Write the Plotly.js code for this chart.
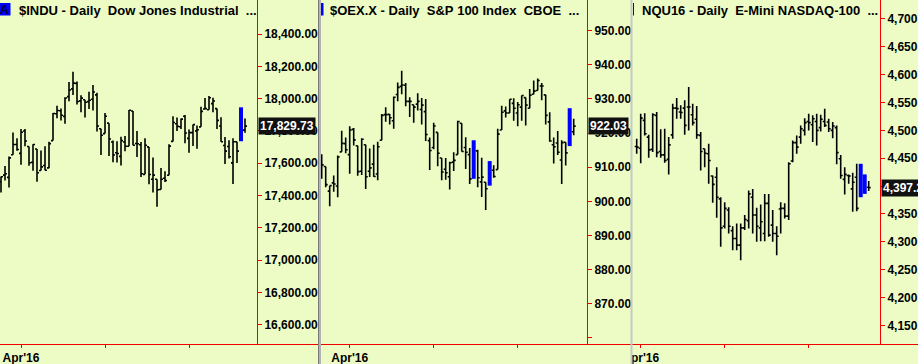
<!DOCTYPE html>
<html>
<head>
<meta charset="utf-8">
<script src="https://cdn.plot.ly/plotly-3.0.1.min.js"></script>
<style>
  html, body { margin: 0; padding: 0; background: #ECFCC4; }
  #chart { width: 918px; height: 364px; }
</style>
</head>
<body>
<div id="chart"></div>
<script>
// ---------------- DATA ----------------
const dates = [
  '2016-03-22','2016-03-23','2016-03-24','2016-03-28','2016-03-29','2016-03-30','2016-03-31',
  '2016-04-01','2016-04-04','2016-04-05','2016-04-06','2016-04-07','2016-04-08','2016-04-11',
  '2016-04-12','2016-04-13','2016-04-14','2016-04-15','2016-04-18','2016-04-19','2016-04-20',
  '2016-04-21','2016-04-22','2016-04-25','2016-04-26','2016-04-27','2016-04-28','2016-04-29',
  '2016-05-02','2016-05-03','2016-05-04','2016-05-05','2016-05-06','2016-05-09','2016-05-10',
  '2016-05-11','2016-05-12','2016-05-13','2016-05-16','2016-05-17','2016-05-18','2016-05-19',
  '2016-05-20','2016-05-23','2016-05-24','2016-05-25','2016-05-26','2016-05-27','2016-05-31',
  '2016-06-01','2016-06-02','2016-06-03','2016-06-06','2016-06-07','2016-06-08','2016-06-09',
  '2016-06-10','2016-06-13','2016-06-14','2016-06-15','2016-06-16','2016-06-17','2016-06-20',
  '2016-06-21','2016-06-22'
];
const monthStarts = ['2016-04-01', '2016-05-02', '2016-06-01'];
const monthLabels = ["Apr'16", '', ''];

// $INDU daily, first bar 2016-03-24
const dowStart = '2016-03-24';
const dowOpen  = [17485,17526,17512,17652,17716,17661,17799,17703,17605,17688,17555,17586,17571,17740,17906,17925,17890,18012,18060,18094,17986,17993,17981,17996,18023,17813,17783,17848,17731,17665,17642,17731,17705,17923,17722,17714,17531,17701,17501,17501,17437,17507,17525,17735,17844,17826,17891,17754,17789,17800,17825,17936,17931,17969,17938,17830,17710,17703,17602,17733,17736,17805];
const dowHigh  = [17518,17583,17642,17790,17755,17811,17811,17703,17717,17688,17679,17705,17733,17911,17956,17938,18009,18103,18167,18106,18020,17993,18043,18084,18036,17814,17911,17848,17740,17736,17764,17769,17929,17923,17800,17731,17755,17701,17636,17501,17571,17550,17718,17891,17883,17876,17899,17809,17839,17833,17949,18003,18016,18005,17938,17885,17762,17742,17754,17733,17946,17877];
const dowLow   = [17419,17493,17450,17652,17677,17590,17705,17584,17553,17485,17555,17556,17568,17740,17879,17864,17844,17984,18022,17963,17916,17883,17935,17927,17796,17651,17784,17645,17606,17605,17585,17674,17705,17711,17638,17515,17531,17469,17418,17331,17437,17483,17525,17735,17799,17812,17724,17664,17706,17689,17825,17936,17931,17915,17812,17733,17595,17629,17471,17602,17736,17788];
const dowClose = [17516,17535,17633,17716,17685,17792,17737,17603,17716,17541,17577,17556,17721,17908,17926,17897,18004,18053,18096,17982,18003,17977,17990,18041,17830,17773,17891,17750,17651,17660,17740,17705,17928,17711,17720,17535,17711,17530,17526,17436,17501,17493,17706,17852,17828,17873,17787,17789,17839,17807,17921,17938,18005,17985,17865,17733,17675,17640,17733,17675,17805,17829.73];
const dowMarked = ['2016-06-20'];
const dowTicks = [16600,16800,17000,17200,17400,17600,17800,18000,18200,18400];

// $OEX.X daily, first bar 2016-03-22
const oexStart = '2016-03-22';
const oexOpen  = [910.2,910.2,903.0,905.4,904.5,914.5,916.9,913.7,921.1,916.3,908.8,916.6,908.8,910.9,908.0,917.9,925.4,925.5,923.6,931.3,933.7,934.0,929.3,928.3,928.5,926.9,926.3,917.8,915.8,920.2,912.7,909.4,907.2,911.5,913.7,922.9,915.8,913.7,906.6,914.8,905.7,905.6,904.6,909.1,909.3,920.9,926.5,925.9,928.7,925.9,927.6,930.4,927.3,931.4,932.5,933.8,931.2,923.3,916.6,917.1,912.1,917.3,916.2,920.4];
const oexHigh  = [913.8,910.2,904.6,907.6,913.4,920.7,918.7,922.0,921.5,916.3,918.5,916.6,915.5,916.6,917.5,925.6,927.6,925.6,930.7,934.8,938.3,934.7,930.5,928.3,931.7,930.3,930.0,918.7,923.0,920.2,912.7,912.7,911.6,914.4,923.6,922.9,918.8,915.6,917.9,915.1,912.8,905.6,911.8,910.6,921.3,928.0,927.8,929.9,930.2,929.1,931.0,930.4,932.9,935.4,936.0,934.7,931.2,926.1,918.7,920.6,917.9,917.3,927.3,924.2];
const oexLow   = [906.6,904.1,898.6,902.8,901.2,914.5,914.1,908.1,916.4,907.5,907.7,903.6,907.1,907.2,906.2,917.9,923.3,922.5,921.3,929.3,931.4,927.9,924.7,923.0,926.6,922.5,917.7,909.2,915.3,910.3,906.2,906.3,903.5,908.9,913.7,914.6,909.5,905.1,906.6,904.1,901.3,897.5,904.6,906.9,909.3,920.9,924.6,925.9,923.6,922.0,923.6,922.2,927.3,931.4,932.5,929.6,922.5,917.5,911.1,913.6,905.1,910.5,916.2,919.4];
const oexClose = [910.7,904.9,904.6,905.1,913.0,917.0,915.1,920.9,918.0,908.7,918.2,907.2,909.8,907.3,916.0,925.2,925.4,924.5,930.5,933.4,934.1,929.3,929.3,927.6,929.3,928.2,919.6,914.9,922.1,914.1,908.6,908.4,911.3,912.0,923.4,914.6,914.4,906.6,915.5,906.9,907.1,903.7,909.2,907.3,919.7,926.1,925.9,929.9,927.3,928.3,931.0,928.2,931.1,932.3,935.4,933.8,925.2,917.7,916.0,914.4,917.2,914.2,919.6,922.03];
const oexMarked = ['2016-05-16', '2016-05-20', '2016-06-20'];
const oexTicks = [860,870,880,890,900,910,920,930,940,950];
const oexTickText = ['','870.00','880.00','890.00','900.00','910.00','920.00','930.00','940.00','950.00'];

// NQU16 daily, first bar 2016-03-31
const nqStart = '2016-03-31';
const nqOpen  = [4471,4468,4518,4488,4466,4527,4462,4456,4448,4492,4540,4533,4540,4542,4528,4520,4491,4467,4458,4418,4416,4377,4328,4357,4320,4306,4294,4325,4338,4380,4348,4325,4315,4369,4330,4315,4359,4360,4346,4445,4478,4488,4500,4516,4510,4516,4505,4516,4515,4500,4505,4449,4412,4419,4395,4416,4385,4420,4398];
const nqHigh  = [4485,4530,4531,4492,4531,4533,4502,4503,4488,4548,4558,4545,4554,4578,4548,4544,4497,4467,4476,4419,4434,4380,4371,4362,4328,4333,4333,4348,4392,4395,4361,4367,4386,4386,4357,4328,4371,4369,4443,4482,4491,4509,4522,4530,4527,4530,4528,4539,4521,4515,4509,4456,4434,4421,4424,4440,4440,4421,4409];
const nqLow   = [4458,4441,4491,4451,4461,4452,4451,4442,4421,4485,4521,4521,4492,4500,4509,4485,4428,4434,4404,4370,4343,4291,4324,4315,4285,4285,4267,4321,4324,4315,4300,4301,4301,4309,4300,4276,4315,4342,4339,4443,4458,4476,4491,4500,4479,4473,4498,4506,4497,4486,4439,4413,4385,4404,4354,4355,4380,4386,4391];
const nqClose = [4470,4522,4494,4465,4528,4460,4456,4446,4474,4540,4539,4532,4509,4542,4514,4492,4462,4459,4446,4403,4380,4325,4360,4328,4306,4294,4325,4340,4386,4348,4328,4336,4369,4312,4315,4310,4360,4346,4440,4478,4470,4503,4514,4514,4521,4500,4520,4509,4503,4508,4460,4419,4421,4418,4407,4360,4430,4400,4397.25];
const nqMarked = ['2016-06-20', '2016-06-21'];
const nqTicks = [4150,4200,4250,4300,4350,4400,4450,4500,4550,4600,4650,4700];

// ---------------- STYLE ----------------
const BG = '#ECFCC4';
const RED = '#F00000';
const FONT = 'Liberation Sans, Arial, Helvetica, sans-serif';
const W = 918, H = 364;
const px = v => v / W;            // horizontal pixel -> paper
const py = v => 1 - v / H;        // vertical pixel -> paper

const baseIdx = dates.indexOf(monthStarts[0]);
const monthTickVals = monthStarts.map(d => dates.indexOf(d) - baseIdx);

function panelTraces(start, O, Hh, L, C, marked, xa, ya) {
  const s = dates.indexOf(start);
  const norm = {x: [], o: [], h: [], l: [], c: []};
  const mark = {x: [], o: [], h: [], l: [], c: []};
  for (let i = 0; i < O.length; i++) {
    const d = dates[s + i];
    const tgt = marked.includes(d) ? mark : norm;
    tgt.x.push(s + i - baseIdx);
    tgt.o.push(O[i]); tgt.h.push(Hh[i]); tgt.l.push(L[i]); tgt.c.push(C[i]);
  }
  const mk = (g, color, width, tw) => ({
    type: 'ohlc', xaxis: xa, yaxis: ya,
    x: g.x, open: g.o, high: g.h, low: g.l, close: g.c,
    increasing: {line: {color: color, width: width}},
    decreasing: {line: {color: color, width: width}},
    tickwidth: tw, hoverinfo: 'skip', showlegend: false
  });
  return [mk(norm, '#000000', 1.6, 0.5), mk(mark, '#0000FF', 4, 0)];
}

const data = [
  ...panelTraces(dowStart, dowOpen, dowHigh, dowLow, dowClose, dowMarked, 'x', 'y'),
  ...panelTraces(oexStart, oexOpen, oexHigh, oexLow, oexClose, oexMarked, 'x2', 'y2'),
  ...panelTraces(nqStart, nqOpen, nqHigh, nqLow, nqClose, nqMarked, 'x3', 'y3')
];

const yDom = [20 / H, 1];
const tickFont = {family: FONT, size: 12, color: '#000000', weight: 700};

function xAxis(domain, range, anchor) {
  return {
    domain: domain, range: range, anchor: anchor,
    tickmode: 'array', tickvals: monthTickVals, ticktext: monthLabels,
    ticks: 'outside', ticklen: 3, tickwidth: 1, tickcolor: RED,
    showline: false, showgrid: false, zeroline: false,
    tickfont: tickFont, rangeslider: {visible: false}, fixedrange: true
  };
}
function yAxis(range, anchor, vals, text, fmt) {
  const a = {
    domain: yDom, range: range, anchor: anchor, side: 'right',
    tickmode: 'array', tickvals: vals,
    ticks: 'outside', ticklen: 4, tickwidth: 1, tickcolor: RED,
    showline: true, linecolor: RED, linewidth: 1,
    showgrid: false, zeroline: false, tickfont: tickFont, fixedrange: true
  };
  if (text) a.ticktext = text; else a.tickformat = fmt;
  return a;
}

const fmt2 = new Intl.NumberFormat('en-US', {minimumFractionDigits: 2, maximumFractionDigits: 2});

function titleAnn(x, text) {
  return {xref: 'paper', yref: 'paper', x: px(x), y: py(10), xanchor: 'left', yanchor: 'middle',
          text: text, showarrow: false, font: {family: FONT, size: 13, color: '#000000', weight: 700}};
}
function tagAnn(x, yref, value) {
  return {xref: 'paper', yref: yref, x: px(x), y: value, xanchor: 'left', yanchor: 'middle',
          text: fmt2.format(value), showarrow: false, bgcolor: '#111111', borderpad: 1,
          font: {family: FONT, size: 12, color: '#FFFFFF', weight: 700}};
}
const nb = s => s.replace(/ /g, '\u00a0');

const layout = {
  width: W, height: H,
  margin: {l: 0, r: 0, t: 0, b: 0, pad: 0},
  paper_bgcolor: BG, plot_bgcolor: BG,
  hovermode: false, dragmode: false, showlegend: false,
  xaxis:  xAxis([0, px(257)], [-5.25, 59], 'y'),
  yaxis:  yAxis([16480.5, 18610.5], 'x', dowTicks, null, ',.2f'),
  xaxis2: xAxis([px(321), px(587)], [-7.175, 59.325], 'y2'),
  yaxis2: yAxis([858.2, 959.0], 'x2', oexTicks, oexTickText, null),
  xaxis3: xAxis([px(634), px(880)], [-1.675, 59.825], 'y3'),
  yaxis3: yAxis([4116.5, 4734.1], 'x3', nqTicks, null, ',.2f'),
  shapes: [
    // cover the part of panel 3's month label that spills into panel 2
    {type: 'rect', xref: 'paper', yref: 'paper', x0: px(588), x1: px(631), y0: 0, y1: py(345.5),
     fillcolor: BG, line: {width: 0}, layer: 'above'},
    // bottom red line across the window
    {type: 'line', xref: 'paper', yref: 'paper', x0: 0, x1: 1, y0: py(344.5), y1: py(344.5),
     line: {color: RED, width: 1}, layer: 'above'},
    // panel dividers
    {type: 'rect', xref: 'paper', yref: 'paper', x0: px(318), x1: px(321), y0: 0, y1: 1,
     fillcolor: '#B4B4B4', line: {width: 0}, layer: 'above'},
    {type: 'line', xref: 'paper', yref: 'paper', x0: px(318.5), x1: px(318.5), y0: 0, y1: 1,
     line: {color: '#7A7A7A', width: 1}, layer: 'above'},
    {type: 'rect', xref: 'paper', yref: 'paper', x0: px(630.5), x1: px(632.5), y0: 0, y1: 1,
     fillcolor: '#C8C8C8', line: {width: 0}, layer: 'above'},
    // symbol markers in the title rows
    {type: 'rect', xref: 'paper', yref: 'paper', x0: 0, x1: px(10.5), y0: py(15.5), y1: py(3),
     fillcolor: '#0000FF', line: {width: 0}, layer: 'above'},
    {type: 'rect', xref: 'paper', yref: 'paper', x0: px(321), x1: px(323.5), y0: py(15.5), y1: py(3),
     fillcolor: '#0000FF', line: {width: 0}, layer: 'above'},
    {type: 'rect', xref: 'paper', yref: 'paper', x0: px(633), x1: px(634), y0: py(15.5), y1: py(3),
     fillcolor: '#0000FF', line: {width: 0}, layer: 'above'}
  ],
  annotations: [
    {xref: 'paper', yref: 'paper', x: px(-2), y: py(10), xanchor: 'left', yanchor: 'middle',
     text: 'A', showarrow: false, font: {family: FONT, size: 12, color: '#000033', weight: 700}},
    titleAnn(17, nb('$INDU - Daily  Dow Jones Industrial  ...')),
    titleAnn(328, nb('$OEX.X - Daily  S&P 100 Index  CBOE  ...')),
    titleAnn(640, nb('NQU16 - Daily  E-Mini NASDAQ-100  ...')),
    tagAnn(258, 'y', dowClose[dowClose.length - 1]),
    tagAnn(588, 'y2', oexClose[oexClose.length - 1]),
    tagAnn(881, 'y3', nqClose[nqClose.length - 1])
  ]
};

Plotly.newPlot('chart', data, layout, {displayModeBar: false, staticPlot: true});
</script>
</body>
</html>
